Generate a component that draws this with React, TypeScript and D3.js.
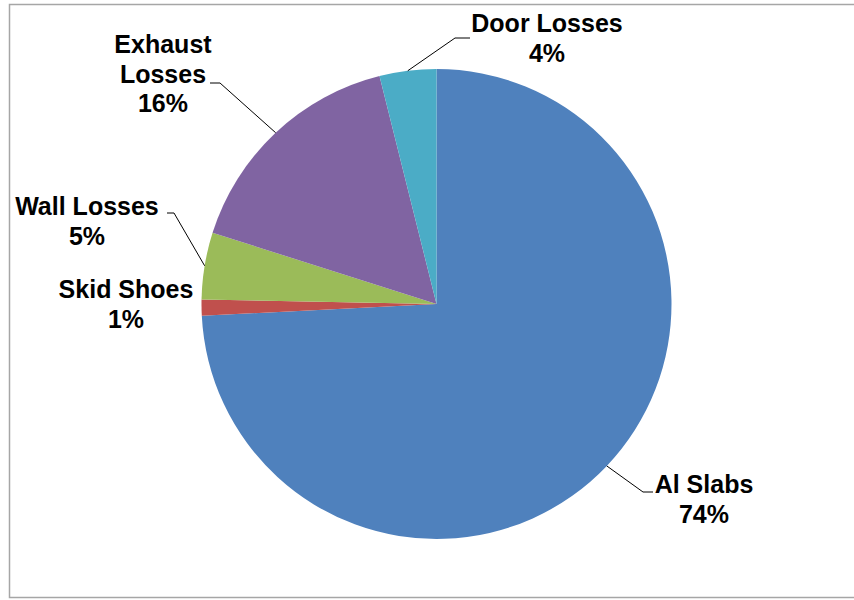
import React from "react";
import * as d3 from "d3";

const categories = ["Al Slabs", "Skid Shoes", "Wall Losses", "Exhaust Losses", "Door Losses"];
const values = [74.2, 1.1, 4.6, 16.2, 3.9];
const labelLines = [["Al Slabs", "74%"], ["Skid Shoes", "1%"], ["Wall Losses", "5%"], ["Exhaust", "Losses", "16%"], ["Door Losses", "4%"]];
const colors = ["#4F81BD", "#C0504D", "#9BBB59", "#8064A2", "#4BACC6"];

// label layout: text center x, first baseline y, optional leader elbow & end
const labelLayout = [
  { x: 704, y: 493, elbow: [643, 492], end: [653, 492] },
  { x: 126, y: 298, elbow: null, end: null },
  { x: 87, y: 215, elbow: [174, 213], end: [167, 213] },
  { x: 163, y: 53, elbow: [220, 83], end: [210, 83] },
  { x: 547, y: 32, elbow: [455, 38], end: [470, 38] },
];

export default function App() {
  const W = 854, H = 600;
  const cx = 436.5, cy = 304, r = 235;
  const pie = d3.pie<number>().sort(null).value((d) => d);
  const arcs = pie(values);
  const arc = d3.arc<d3.PieArcDatum<number>>().innerRadius(0).outerRadius(r);
  const edge = d3.arc<d3.PieArcDatum<number>>().innerRadius(r).outerRadius(r);
  const line = d3.line();
  return (
    <svg width={W} height={H} style={{ position: "absolute", left: 0, top: 0 }}>
      <rect x={0} y={0} width={W} height={H} fill="#fff" />
      <rect x={9.5} y={4.5} width={860} height={593} fill="none" stroke="#a6a6a6" strokeWidth={1.5} />
      <g transform={`translate(${cx},${cy})`}>
        {arcs.map((a, i) => (
          <path key={categories[i]} d={arc(a) || ""} fill={colors[i]} />
        ))}
      </g>
      {arcs.map((a, i) => {
        const L = labelLayout[i];
        if (!L.elbow || !L.end) return null;
        const [ex, ey] = edge.centroid(a);
        const pts: [number, number][] = [[cx + ex, cy + ey], L.elbow as [number, number], L.end as [number, number]];
        return <path key={"l" + i} d={line(pts) || ""} fill="none" stroke="#000" strokeWidth={1} />;
      })}
      {labelLines.map((lines, i) => (
        <text key={"t" + i} x={labelLayout[i].x} y={labelLayout[i].y} textAnchor="middle"
          fontFamily="'Liberation Sans', Arial, sans-serif" fontWeight="bold" fontSize={25} fill="#000">
          {lines.map((s, j) => (
            <tspan key={j} x={labelLayout[i].x} dy={j === 0 ? 0 : 29.7}>{s}</tspan>
          ))}
        </text>
      ))}
    </svg>
  );
}
